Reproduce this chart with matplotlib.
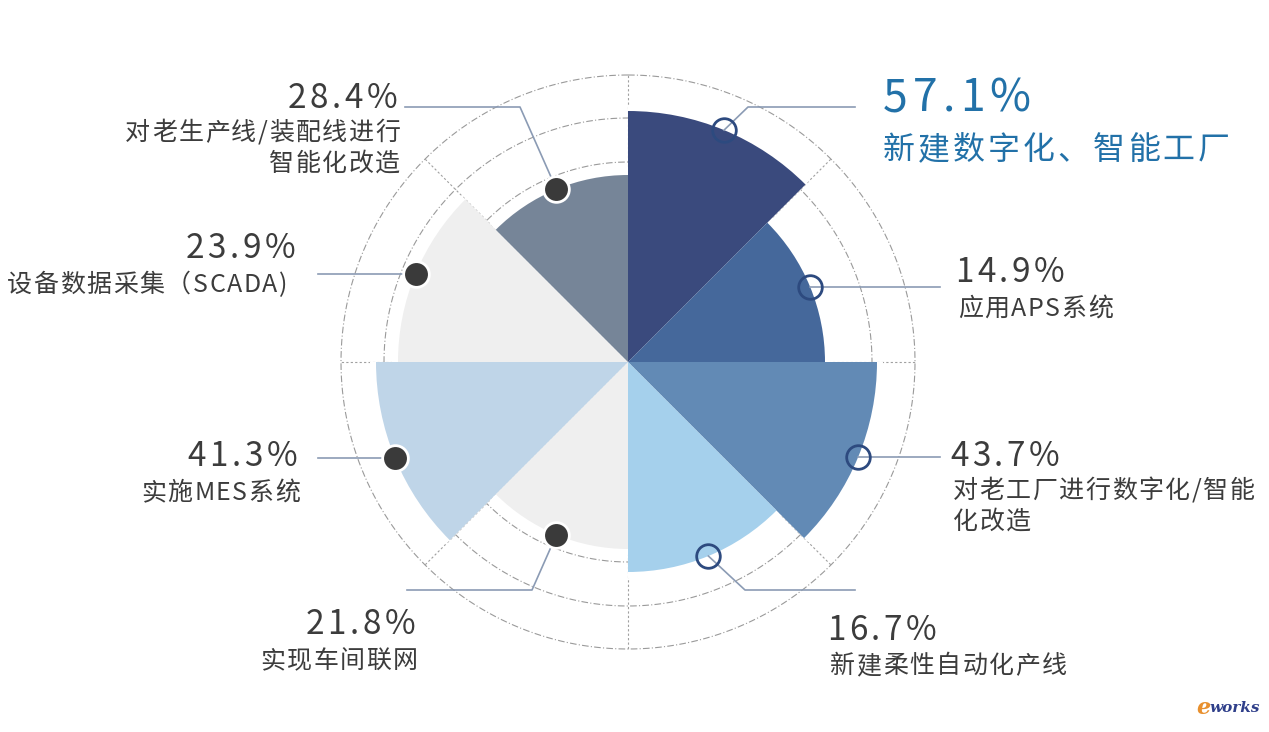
import numpy as np
import matplotlib
matplotlib.use("Agg")
import matplotlib.pyplot as plt
from matplotlib.font_manager import FontProperties
from matplotlib.textpath import text_to_path

plt.rcParams['font.family'] = ['Noto Sans CJK SC', 'DejaVu Sans']

# data, clockwise from 12 o'clock
values = ["57.1%", "14.9%", "43.7%", "16.7%", "21.8%", "41.3%", "23.9%", "28.4%"]
names = [["新建数字化、智能工厂"], ["应用APS系统"], ["对老工厂进行数字化/智能", "化改造"],
         ["新建柔性自动化产线"], ["实现车间联网"], ["实施MES系统"],
         ["设备数据采集（SCADA)"], ["对老生产线/装配线进行", "智能化改造"]]
# petal lengths as drawn in the picture (not proportional to the values)
petal_len = [251, 197, 249, 210, 187, 252, 230, 187]
colors = ["#3a4a7d", "#45689b", "#628ab5", "#a5d0ec",
          "#efefef", "#bfd5e8", "#efefef", "#768598"]

W, H = 1269, 732
cx, cy, R = 628, 362, 287
ring_r = [200, 244, 287]

fig = plt.figure(figsize=(W / 100, H / 100), dpi=100)

# pixel overlay for leader lines and labels
ov = fig.add_axes([0, 0, 1, 1])
ov.set_xlim(0, W)
ov.set_ylim(H, 0)
ov.axis("off")

ax = fig.add_axes([(cx - R) / W, (H - cy - R) / H, 2 * R / W, 2 * R / H],
                  projection="polar")
ax.set_theta_zero_location("N")
ax.set_theta_direction(-1)
ax.set_ylim(0, R)
ax.set_axis_off()

n = len(values)
width = 2 * np.pi / n
mids = np.arange(n) * width + width / 2

# dashed rings and spokes
t = np.linspace(0, 2 * np.pi, 500)
for r in ring_r:
    ax.plot(t, np.full_like(t, r), color="#9a9a9a", lw=0.8,
            ls=(0, (6, 2, 1, 2)), zorder=1, clip_on=False)
for k in range(n):
    ax.plot([k * width] * 2, [0, R], color="#a0a0a0", lw=0.8,
            ls=(0, (2, 2)), zorder=1, clip_on=False)

# white halo so the rings stop short of each petal
ax.bar(mids, np.array(petal_len) + 6, width=width, color="white",
       linewidth=0, zorder=2)
ax.bar(mids, petal_len, width=width, color=colors, linewidth=0, zorder=3)

# markers at the tip of each petal
for i in range(n):
    if i < 4:
        ax.plot(mids[i], petal_len[i], "o", ms=17, mfc="none", mec="#2d4a7f",
                mew=2, zorder=6, clip_on=False)
    else:
        ax.plot(mids[i], petal_len[i], "o", ms=18.5, mfc="#3a3a3a", mec="white",
                mew=2, zorder=6, clip_on=False)

# leader lines: elbow points in pixel space
leader_pts = [
    [(748, 107), (855, 107)],
    [(940, 290)],
    [(940, 462)],
    [(745, 590), (855, 590)],
    [(532, 590), (407, 590)],
    [(318, 464)],
    [(318, 279)],
    [(520, 107), (405, 107)],
]
to_px = ax.transData + ov.transData.inverted()
for i in range(n):
    x0, y0 = to_px.transform((mids[i], petal_len[i]))
    xs = [x0] + [p[0] for p in leader_pts[i]]
    ys = [y0] + [p[1] for p in leader_pts[i]]
    if len(leader_pts[i]) == 1:
        ys[-1] = y0
    ax.plot(xs, ys, color="#8b9bb4", lw=1.2, transform=ov.transData,
            zorder=5, clip_on=False)


def spaced_text(x, y, s, size, color, gap, ha="left"):
    """Draw s one character at a time with extra letter spacing (pixels)."""
    fp = FontProperties(family=plt.rcParams['font.family'], size=size)

    def w(sub):
        if not sub:
            return 0.0
        return text_to_path.get_text_width_height_descent(sub, fp, ismath=False)[0] * 100 / 72

    total = w(s) + gap * (len(s) - 1)
    x0 = x if ha == "left" else x - total
    for k, ch in enumerate(s):
        ov.text(x0 + w(s[:k]) + gap * k, y, ch, ha="left", va="center",
                fontsize=size, color=color)


# labels: (x of value, y of value, x of name, y of first name line, ha)
label_pos = [
    (883, 98, 883, 150, "left"),
    (955, 272, 958, 309, "left"),
    (950, 456, 953, 491, "left"),
    (827, 630, 830, 666, "left"),
    (415, 625, 418, 661, "right"),
    (297, 456, 300, 493, "right"),
    (295, 248, 287, 285, "right"),
    (397, 99, 400, 133, "right"),
]
dark = "#3c3c3c"
blue = "#2271a8"
for i in range(n):
    xv, yv, xn, yn, ha = label_pos[i]
    if i == 0:
        spaced_text(xv, yv, values[i], 32, blue, 5, ha)
        spaced_text(xn, yn, names[i][0], 23, blue, 3, ha)
    else:
        spaced_text(xv, yv, values[i], 24, dark, 3.5, ha)
        for j, line in enumerate(names[i]):
            spaced_text(xn, yn + 31 * j, line, 18, dark, 1.5, ha)

# watermark
ov.text(1196, 708, "e", ha="left", va="center", fontsize=16, color="#e8902e",
        style="italic", fontweight="bold", family="DejaVu Serif")
ov.text(1210, 708, "works", ha="left", va="center", fontsize=11,
        color="#2f3f8a", style="italic", fontweight="bold", family="DejaVu Serif")

fig.savefig("out.png", dpi=100, facecolor="white")
